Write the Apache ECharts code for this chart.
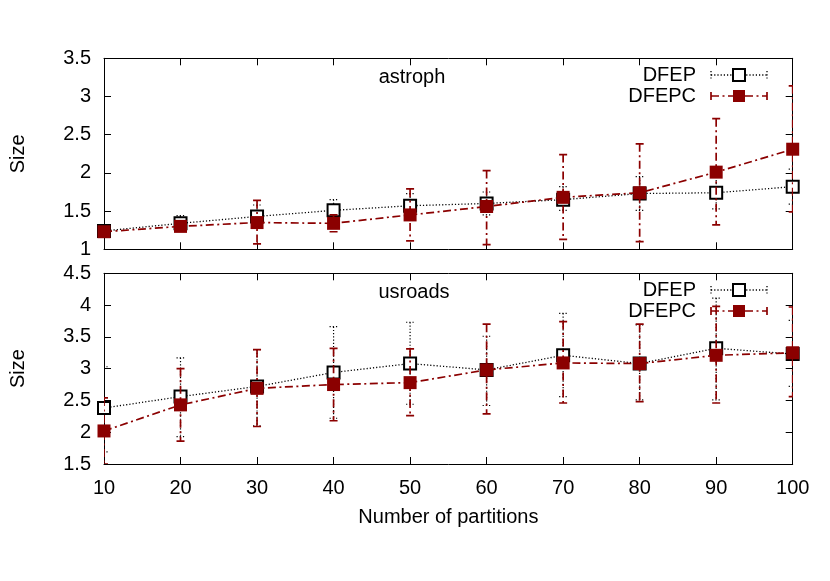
<!DOCTYPE html>
<html>
<head>
<meta charset="utf-8">
<script src="https://cdn.jsdelivr.net/npm/echarts@6/dist/echarts.min.js"></script>
<style>
html,body{margin:0;padding:0;background:#fff;}
#chart{width:830px;height:581px;}
</style>
</head>
<body>
<div id="chart"></div>
<script>
// ---- data ----
const partitions = [10, 20, 30, 40, 50, 60, 70, 80, 90, 100];
const yTicksTop = [1, 1.5, 2, 2.5, 3, 3.5];
const yTicksBottom = [1.5, 2, 2.5, 3, 3.5, 4, 4.5];

// astroph
const astroDFEP      = [1.24, 1.34, 1.43, 1.51, 1.57, 1.60, 1.65, 1.73, 1.74, 1.82];
const astroDFEPLow   = [1.19, 1.25, 1.29, 1.37, 1.41, 1.45, 1.51, 1.51, 1.53, 1.59];
const astroDFEPHigh  = [1.30, 1.44, 1.58, 1.65, 1.73, 1.75, 1.82, 1.95, 1.95, 2.05];
const astroDFEPC     = [1.23, 1.30, 1.35, 1.34, 1.45, 1.56, 1.68, 1.74, 2.01, 2.31];
const astroDFEPCLow  = [1.19, 1.25, 1.07, 1.23, 1.11, 1.06, 1.13, 1.10, 1.32, 1.49];
const astroDFEPCHigh = [1.28, 1.35, 1.64, 1.45, 1.79, 2.03, 2.24, 2.38, 2.71, 3.14];

// usroads
const roadsDFEP      = [2.38, 2.56, 2.72, 2.94, 3.08, 2.98, 3.21, 3.08, 3.32, 3.23];
const roadsDFEPLow   = [1.69, 1.93, 2.10, 2.22, 2.44, 2.42, 2.56, 2.51, 2.51, 2.72];
const roadsDFEPHigh  = [3.03, 3.17, 3.30, 3.66, 3.73, 3.51, 3.87, 3.69, 4.11, 3.76];
const roadsDFEPC     = [2.02, 2.43, 2.69, 2.75, 2.78, 2.98, 3.09, 3.08, 3.21, 3.25];
const roadsDFEPCLow  = [1.50, 1.86, 2.09, 2.18, 2.26, 2.29, 2.46, 2.48, 2.46, 2.56];
const roadsDFEPCHigh = [2.54, 3.00, 3.30, 3.32, 3.31, 3.70, 3.74, 3.70, 3.98, 3.97];

const seriesNames = ['DFEP', 'DFEPC'];
const panelTitles = ['astroph', 'usroads'];
const xName = 'Number of partitions';
const yName = 'Size';

// ---- styles ----
const FONT = "'Liberation Sans', Arial, Helvetica, sans-serif";
const FS = 20;
const RED = '#8b0000';
const BLACK = '#000000';
const DOT = [1.2, 2];
const DASHDOT = [8, 3.5, 2, 3.5];

const pts = (xs, ys) => xs.map((x, i) => [x, ys[i]]);
const errs = (xs, lo, hi) => xs.map((x, i) => [x, lo[i], hi[i]]);

function errRender(color, dash, width) {
  return function (params, api) {
    const x = api.value(0), lo = api.value(1), hi = api.value(2);
    const a = api.coord([x, hi]);
    const b = api.coord([x, lo]);
    const w = 4;
    const st = { stroke: color, lineWidth: width, lineDash: dash, fill: null };
    return {
      type: 'group',
      children: [
        { type: 'line', shape: { x1: a[0], y1: a[1], x2: b[0], y2: b[1] }, style: st },
        { type: 'line', shape: { x1: a[0] - w, y1: a[1], x2: a[0] + w, y2: a[1] }, style: st },
        { type: 'line', shape: { x1: b[0] - w, y1: b[1], x2: b[0] + w, y2: b[1] }, style: st }
      ]
    };
  };
}

const grids = [
  { left: 101.7, right: 37.3, top: 58.3, height: 191 },
  { left: 101.7, right: 37.3, top: 273.3, height: 190.7 }
];

function xAx(gi, pos, showLabel) {
  return {
    gridIndex: gi, type: 'value', position: pos, min: 10, max: 100, interval: 10,
    axisLine: { show: true, lineStyle: { color: BLACK, width: 1 } },
    axisTick: { show: true, inside: true, length: 7, lineStyle: { color: BLACK } },
    axisLabel: { show: showLabel, color: BLACK, fontFamily: FONT, fontSize: FS, margin: 14 },
    splitLine: { show: false },
    name: (showLabel ? xName : ''), nameLocation: 'middle', nameGap: 43,
    nameTextStyle: { color: BLACK, fontFamily: FONT, fontSize: FS }
  };
}
function yAx(gi, pos, min, max, showLabel) {
  return {
    gridIndex: gi, type: 'value', position: pos, min: min, max: max, interval: 0.5,
    axisLine: { show: true, lineStyle: { color: BLACK, width: 1 } },
    axisTick: { show: true, inside: true, length: 7, lineStyle: { color: BLACK } },
    axisLabel: { show: showLabel, color: BLACK, fontFamily: FONT, fontSize: FS, margin: 13,
      formatter: v => String(v) },
    splitLine: { show: false },
    name: (showLabel ? yName : ''), nameLocation: 'middle', nameGap: 76, nameRotate: 90,
    nameTextStyle: { color: BLACK, fontFamily: FONT, fontSize: FS }
  };
}

function panelSeries(gi, dA, dAlo, dAhi, dC, dClo, dChi) {
  const xi = gi * 2, yi = gi * 2;
  return [
    { type: 'custom', name: seriesNames[0], xAxisIndex: xi, yAxisIndex: yi,
      renderItem: errRender(BLACK, DOT, 1.2), data: errs(partitions, dAlo, dAhi),
      encode: { x: 0, y: [1, 2] }, z: 2, silent: true, clip: true },
    { type: 'line', name: seriesNames[0], xAxisIndex: xi, yAxisIndex: yi,
      data: pts(partitions, dA), symbol: 'rect', symbolSize: 12, showSymbol: true,
      lineStyle: { color: BLACK, width: 1.3, type: DOT },
      itemStyle: { color: '#ffffff', borderColor: BLACK, borderWidth: 2 },
      z: 3, animation: false, silent: true },
    { type: 'custom', name: seriesNames[1], xAxisIndex: xi, yAxisIndex: yi,
      renderItem: errRender(RED, DASHDOT, 1.7), data: errs(partitions, dClo, dChi),
      encode: { x: 0, y: [1, 2] }, z: 4, silent: true, clip: true },
    { type: 'line', name: seriesNames[1], xAxisIndex: xi, yAxisIndex: yi,
      data: pts(partitions, dC), symbol: 'rect', symbolSize: 13, showSymbol: true,
      lineStyle: { color: RED, width: 1.7, type: DASHDOT },
      itemStyle: { color: RED, borderColor: RED, borderWidth: 0 },
      z: 5, animation: false, silent: true }
  ];
}

function legendGraphic(y0) {
  const tx = 696, l1 = 711, l2 = 767, mx = 739, h = 4;
  const rows = [
    { y: y0, name: seriesNames[0], color: BLACK, dash: DOT, fill: '#ffffff', bw: 2, lw: 1.3 },
    { y: y0 + 21, name: seriesNames[1], color: RED, dash: DASHDOT, fill: RED, bw: 0, lw: 1.7 }
  ];
  const out = [];
  rows.forEach(r => {
    out.push({ type: 'text', x: tx, y: r.y,
      style: { text: r.name, fill: BLACK, font: FS + 'px ' + FONT, textAlign: 'right', textVerticalAlign: 'middle' } });
    out.push({ type: 'line', shape: { x1: l1, y1: r.y, x2: l2, y2: r.y },
      style: { stroke: r.color, lineWidth: r.lw, lineDash: r.dash } });
    out.push({ type: 'line', shape: { x1: l1, y1: r.y - h, x2: l1, y2: r.y + h },
      style: { stroke: r.color, lineWidth: r.lw, lineDash: r.dash } });
    out.push({ type: 'line', shape: { x1: l2, y1: r.y - h, x2: l2, y2: r.y + h },
      style: { stroke: r.color, lineWidth: r.lw, lineDash: r.dash } });
    out.push({ type: 'rect', shape: { x: mx - 6, y: r.y - 6, width: 12, height: 12 },
      style: { fill: r.fill, stroke: r.color, lineWidth: r.bw } });
  });
  return out;
}

const option = {
  backgroundColor: '#ffffff',
  animation: false,
  grid: grids,
  xAxis: [xAx(0, 'bottom', false), xAx(0, 'top', false), xAx(1, 'bottom', true), xAx(1, 'top', false)],
  yAxis: [yAx(0, 'left', yTicksTop[0], yTicksTop[yTicksTop.length - 1], true),
          yAx(0, 'right', yTicksTop[0], yTicksTop[yTicksTop.length - 1], false),
          yAx(1, 'left', yTicksBottom[0], yTicksBottom[yTicksBottom.length - 1], true),
          yAx(1, 'right', yTicksBottom[0], yTicksBottom[yTicksBottom.length - 1], false)],
  series: [].concat(
    panelSeries(0, astroDFEP, astroDFEPLow, astroDFEPHigh, astroDFEPC, astroDFEPCLow, astroDFEPCHigh),
    panelSeries(1, roadsDFEP, roadsDFEPLow, roadsDFEPHigh, roadsDFEPC, roadsDFEPCLow, roadsDFEPCHigh)
  ),
  graphic: [
    { type: 'text', x: 412, y: 77, style: { text: panelTitles[0], fill: BLACK, font: FS + 'px ' + FONT, textAlign: 'center', textVerticalAlign: 'middle' } },
    { type: 'text', x: 414, y: 292, style: { text: panelTitles[1], fill: BLACK, font: FS + 'px ' + FONT, textAlign: 'center', textVerticalAlign: 'middle' } }
  ].concat(legendGraphic(75), legendGraphic(290))
};

const chart = echarts.init(document.getElementById('chart'), null, { renderer: 'canvas' });
chart.setOption(option);
</script>
</body>
</html>
